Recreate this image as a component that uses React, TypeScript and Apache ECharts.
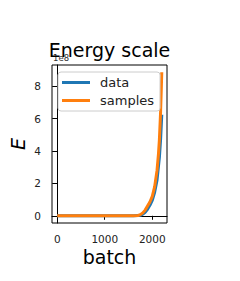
import React, { useEffect, useRef } from "react";
import * as echarts from "echarts";

const batchData = [0, 200, 400, 600, 800, 1000, 1200, 1400, 1600, 1700, 1750, 1800, 1850, 1900, 1950, 2000, 2050, 2100, 2150, 2175, 2200];
const energyData = [0, 0, 0, 0, 0, 0, 0, 0, 0, 0.01, 0.03, 0.1, 0.22, 0.4, 0.65, 0.95, 1.45, 2.2, 3.6, 4.7, 6.23];

const batchSamples = [0, 200, 400, 600, 800, 1000, 1200, 1400, 1600, 1700, 1750, 1800, 1850, 1900, 1950, 2000, 2050, 2100, 2130, 2150, 2175, 2190, 2200];
const energySamples = [0, 0, 0, 0, 0, 0, 0, 0, 0, 0.02, 0.07, 0.18, 0.35, 0.6, 0.85, 1.2, 1.8, 2.8, 3.8, 4.7, 6.4, 7.8, 8.85];

const xTicks = [0, 1000, 2000];
const yTicks = [0, 2, 4, 6, 8];
const SCALE = 1e8;

const FONT = "DejaVu Sans";

export default function App() {
  const ref = useRef<HTMLDivElement>(null);
  useEffect(() => {
    if (!ref.current) return;
    const chart = echarts.init(ref.current, null, { renderer: "svg" });
    const gl = 52, gt = 65, gw = 115, gh = 158;
    chart.setOption({
      animation: false,
      backgroundColor: "#ffffff",
      grid: {
        left: gl, top: gt, width: gw, height: gh,
        show: true, borderColor: "#000", borderWidth: 1, backgroundColor: "transparent",
      },
      xAxis: {
        type: "value", min: -110, max: 2310,
        splitLine: { show: false },
        axisLine: { show: true, lineStyle: { color: "#000", width: 1 } },
        axisTick: { show: true, inside: false, length: 4, lineStyle: { color: "#000" }, customValues: xTicks },
        axisLabel: { customValues: xTicks, formatter: (v: number) => String(Math.round(v)), color: "#222", fontSize: 10.5, fontFamily: FONT, margin: 10 },
      },
      yAxis: {
        type: "value", min: -0.445 * SCALE, max: 9.3 * SCALE,
        splitLine: { show: false },
        axisLine: { show: true, lineStyle: { color: "#000", width: 1 } },
        axisTick: { show: true, inside: false, length: 5, lineStyle: { color: "#000" }, customValues: yTicks.map((v) => v * SCALE) },
        axisLabel: {
          customValues: yTicks.map((v) => v * SCALE),
          formatter: (v: number) => String(Math.round(v / SCALE)),
          color: "#222", fontSize: 10.5, fontFamily: FONT, margin: 11,
        },
      },
      legend: {
        orient: "vertical", left: 58, top: 72,
        backgroundColor: "rgba(255,255,255,0.8)",
        borderColor: "#cccccc", borderWidth: 1, borderRadius: 3,
        padding: [4, 6, 4, 4], itemGap: 5,
        itemWidth: 28, itemHeight: 3, icon: "rect",
        textStyle: { fontSize: 13, fontFamily: FONT, color: "#222", padding: [0, 0, 0, 5] },
        data: ["data", "samples"],
      },
      series: [
        {
          name: "data", type: "line", symbol: "none",
          data: batchData.map((x, i) => [x, energyData[i] * SCALE]),
          lineStyle: { color: "#1f77b4", width: 3 }, itemStyle: { color: "#1f77b4" },
        },
        {
          name: "samples", type: "line", symbol: "none",
          data: batchSamples.map((x, i) => [x, energySamples[i] * SCALE]),
          lineStyle: { color: "#ff7f0e", width: 3 }, itemStyle: { color: "#ff7f0e" },
        },
      ],
      graphic: [
        { type: "text", x: 53, y: 62, style: { text: "1e8", fontSize: 8.5, fontFamily: FONT, fill: "#333", textAlign: "left", textVerticalAlign: "bottom" } },
        { type: "text", x: 109.5, y: 50, style: { text: "Energy scale", fontSize: 19, fontFamily: FONT, fill: "#000", textAlign: "center", textVerticalAlign: "middle" } },
        { type: "text", x: 109.5, y: 257, style: { text: "batch", fontSize: 19, fontFamily: FONT, fill: "#000", textAlign: "center", textVerticalAlign: "middle" } },
        { type: "text", x: 18, y: 144, rotation: Math.PI / 2, style: { text: "E", fontSize: 19, fontStyle: "italic", fontFamily: FONT, fill: "#000", textAlign: "center", textVerticalAlign: "middle" } },
      ],
    });
    return () => chart.dispose();
  }, []);
  return <div ref={ref} style={{ width: 240, height: 281, position: "absolute", left: 0, top: 0 }} />;
}
